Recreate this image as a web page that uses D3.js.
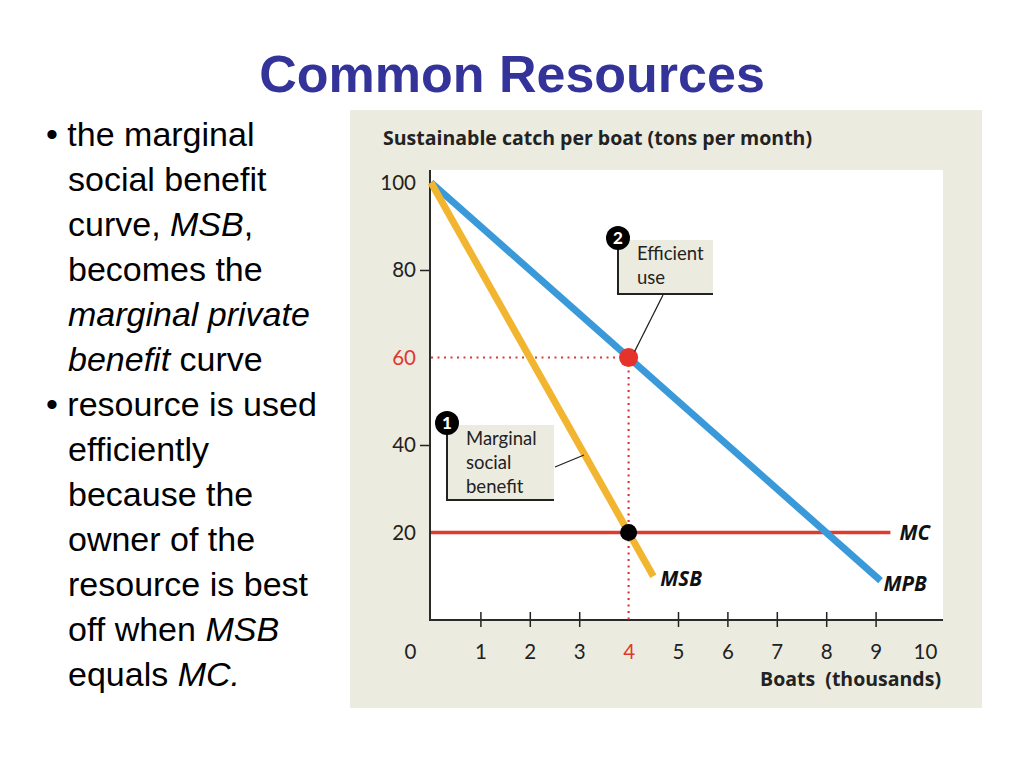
<!DOCTYPE html>
<html>
<head>
<meta charset="utf-8">
<script src="https://cdn.jsdelivr.net/npm/d3@7"></script>
<style>
  body { margin: 0; background: #fff; }
  svg { display: block; }
</style>
</head>
<body>
<div id="chart"></div>
<script>
// chart values
var xTickValues = [0, 1, 2, 3, 4, 5, 6, 7, 8, 9, 10];
var yTickValues = [20, 40, 60, 80, 100];
var mpbBoats = [0, 9.1];
var mpbCatch = [100, 9];
var msbBoats = [0, 4.5];
var msbCatch = [100, 10];
var mcBoats = [0, 9.3];
var mcCatch = [20, 20];
var efficientBoats = 4;
var efficientCatch = 60;
var mcBoatsAtMsb = 4;

var bulletLines = [
    [["• ", false], ["the marginal", false]],
    [["social benefit", false]],
    [["curve, ", false], ["MSB", true], [",", false]],
    [["becomes the", false]],
    [["marginal private", true]],
    [["benefit", true], [" curve", false]],
    [["• ", false], ["resource is used", false]],
    [["efficiently", false]],
    [["because the", false]],
    [["owner of the", false]],
    [["resource is best", false]],
    [["off when ", false], ["MSB", true]],
    [["equals ", false], ["MC.", true]]
];

var svgWidth = 1024;
var svgHeight = 768;

var svg = d3.select("#chart")
    .append("svg")
    .attr("width", svgWidth)
    .attr("height", svgHeight);

// title
svg.append("text")
    .attr("x", 512)
    .attr("y", 92)
    .attr("text-anchor", "middle")
    .style("font-family", "Liberation Sans, Arial, sans-serif")
    .style("font-weight", "bold")
    .style("font-size", "52px")
    .style("fill", "#333399")
    .text("Common Resources");

// bullet text
var textGroup = svg.append("g")
    .style("font-family", "Liberation Sans, Arial, sans-serif")
    .style("font-size", "34px")
    .style("fill", "#000");

bulletLines.forEach(function(line, i) {
    var t = textGroup.append("text")
        .attr("x", line[0][0] === "• " ? 46 : 68)
        .attr("y", 146 + i * 45);
    line.forEach(function(seg) {
        t.append("tspan")
            .style("font-style", seg[1] ? "italic" : "normal")
            .text(seg[0]);
    });
});

// chart panel
var chartFont = "Lato, 'Open Sans', sans-serif";
var boldFont = "'Open Sans', Lato, sans-serif";
svg.append("rect")
    .attr("x", 350).attr("y", 110)
    .attr("width", 632).attr("height", 598)
    .attr("fill", "#ecebdf");

var x = d3.scaleLinear().domain([0, 10]).range([431, 925]);
var y = d3.scaleLinear().domain([0, 100]).range([620, 182.5]);

// white plot area
svg.append("rect")
    .attr("x", x(0) - 2).attr("y", 170)
    .attr("width", 943 - x(0) + 2).attr("height", y(0) - 170)
    .attr("fill", "#fff");

svg.append("text")
    .attr("x", 383).attr("y", 145)
    .style("font-family", boldFont)
    .style("font-weight", "bold")
    .style("font-size", "19.5px")
    .style("fill", "#222")
    .text("Sustainable catch per boat (tons per month)");

svg.append("text")
    .attr("x", 941).attr("y", 686)
    .attr("text-anchor", "end")
    .style("font-family", boldFont)
    .style("font-weight", "bold")
    .style("font-size", "19.5px")
    .style("fill", "#222")
    .style("white-space", "pre")
    .text("Boats  (thousands)");

// x axis
var bottomAxis = d3.axisBottom(x)
    .tickValues(xTickValues)
    .tickSize(8)
    .tickSizeOuter(0)
    .tickPadding(16);

var xAxis = svg.append("g")
    .attr("transform", `translate(0,${y(0)})`)
    .call(bottomAxis);
xAxis.select(".domain").remove();
xAxis.selectAll(".tick line")
    .attr("y1", -8).attr("y2", 7)
    .attr("stroke", "#222").attr("stroke-width", 1.5)
    .attr("display", d => (d === 0 || d === 4 || d === 10) ? "none" : null);
xAxis.selectAll(".tick text")
    .style("font-family", chartFont)
    .style("font-size", "20.5px")
    .attr("fill", d => d === 4 ? "#e0382c" : "#222")
    .attr("dx", d => d === 0 ? -21 : 0);

// y axis
var leftAxis = d3.axisLeft(y)
    .tickValues(yTickValues)
    .tickSize(10)
    .tickSizeOuter(0)
    .tickPadding(4);

var yAxis = svg.append("g")
    .attr("transform", `translate(${x(0) - 1},0)`)
    .call(leftAxis);
yAxis.select(".domain").remove();
yAxis.selectAll(".tick line")
    .attr("stroke", "#222").attr("stroke-width", 1.5)
    .attr("display", d => (d === 40 || d === 80) ? null : "none");
yAxis.selectAll(".tick text")
    .style("font-family", chartFont)
    .style("font-size", "20.5px")
    .attr("fill", d => d === 60 ? "#e0382c" : "#222");

// axis lines
svg.append("line")
    .attr("x1", x(0) - 1).attr("x2", x(0) - 1)
    .attr("y1", 170).attr("y2", y(0) + 1)
    .attr("stroke", "#2a2a2a").attr("stroke-width", 2);
svg.append("line")
    .attr("x1", x(0) - 2).attr("x2", 943)
    .attr("y1", y(0)).attr("y2", y(0))
    .attr("stroke", "#2a2a2a").attr("stroke-width", 2);

// dotted guides
svg.append("line")
    .attr("x1", x(0)).attr("x2", x(efficientBoats))
    .attr("y1", y(efficientCatch)).attr("y2", y(efficientCatch))
    .attr("stroke", "#e0383a").attr("stroke-width", 2.2)
    .attr("stroke-dasharray", "2,4.5");
svg.append("line")
    .attr("x1", x(efficientBoats)).attr("x2", x(efficientBoats))
    .attr("y1", y(efficientCatch)).attr("y2", y(0))
    .attr("stroke", "#e0383a").attr("stroke-width", 2.2)
    .attr("stroke-dasharray", "2,4.5");

// curves
var line = d3.line().x(d => x(d[0])).y(d => y(d[1]));

svg.append("path")
    .datum(d3.zip(mcBoats, mcCatch))
    .attr("d", line)
    .attr("fill", "none")
    .attr("stroke", "#dd3b2e")
    .attr("stroke-width", 3.5);

svg.append("path")
    .datum(d3.zip(mpbBoats, mpbCatch))
    .attr("d", line)
    .attr("fill", "none")
    .attr("stroke", "#3a9ad9")
    .attr("stroke-width", 7);

svg.append("path")
    .datum(d3.zip(msbBoats, msbCatch))
    .attr("d", line)
    .attr("fill", "none")
    .attr("stroke", "#f2b530")
    .attr("stroke-width", 7);

// points
svg.append("circle")
    .attr("cx", x(efficientBoats)).attr("cy", y(efficientCatch))
    .attr("r", 9.5).attr("fill", "#e5322b");
svg.append("circle")
    .attr("cx", x(mcBoatsAtMsb)).attr("cy", y(mcCatch[0]))
    .attr("r", 8.5).attr("fill", "#000");

// curve labels
var curveLabels = [
    ["MC", x(mcBoats[1]) + 9, y(mcCatch[1]) + 7],
    ["MSB", x(msbBoats[1]) + 7, y(msbCatch[1]) + 10],
    ["MPB", x(mpbBoats[1]) + 3, y(mpbCatch[1]) + 10]
];
svg.selectAll(".curve-label")
    .data(curveLabels)
    .enter()
    .append("text")
    .attr("class", "curve-label")
    .attr("x", d => d[1])
    .attr("y", d => d[2])
    .style("font-family", boldFont)
    .style("font-weight", "bold")
    .style("font-style", "italic")
    .style("font-size", "20.5px")
    .style("fill", "#111")
    .text(d => d[0]);

// callout boxes
function callout(num, bx, by, bw, bh, lines, leader) {
    var g = svg.append("g");
    g.append("rect")
        .attr("x", bx).attr("y", by)
        .attr("width", bw).attr("height", bh)
        .attr("fill", "#ecebdf");
    g.append("path")
        .attr("d", `M${bx},${by}V${by + bh}H${bx + bw}`)
        .attr("fill", "none")
        .attr("stroke", "#222")
        .attr("stroke-width", 2);
    g.append("line")
        .attr("x1", leader[0]).attr("y1", leader[1])
        .attr("x2", leader[2]).attr("y2", leader[3])
        .attr("stroke", "#222").attr("stroke-width", 1.3);
    g.append("circle")
        .attr("cx", bx).attr("cy", by - 2)
        .attr("r", 12).attr("fill", "#000");
    g.append("text")
        .attr("x", bx).attr("y", by + 4)
        .attr("text-anchor", "middle")
        .style("font-family", chartFont)
        .style("font-weight", "900")
        .style("font-size", "17px")
        .style("fill", "#fff")
        .text(num);
    lines.forEach(function(s, i) {
        g.append("text")
            .attr("x", bx + 19).attr("y", by + 20 + i * 24)
            .style("font-family", chartFont)
            .style("font-size", "18.5px")
            .style("fill", "#222")
            .text(s);
    });
}

callout("2", 618, 240, 95, 54, ["Efficient", "use"],
    [663, 295, x(efficientBoats) + 6, y(efficientCatch) - 6]);
callout("1", 447, 425, 107, 75, ["Marginal", "social", "benefit"],
    [555, 467, 584, 455]);
</script>
</body>
</html>
